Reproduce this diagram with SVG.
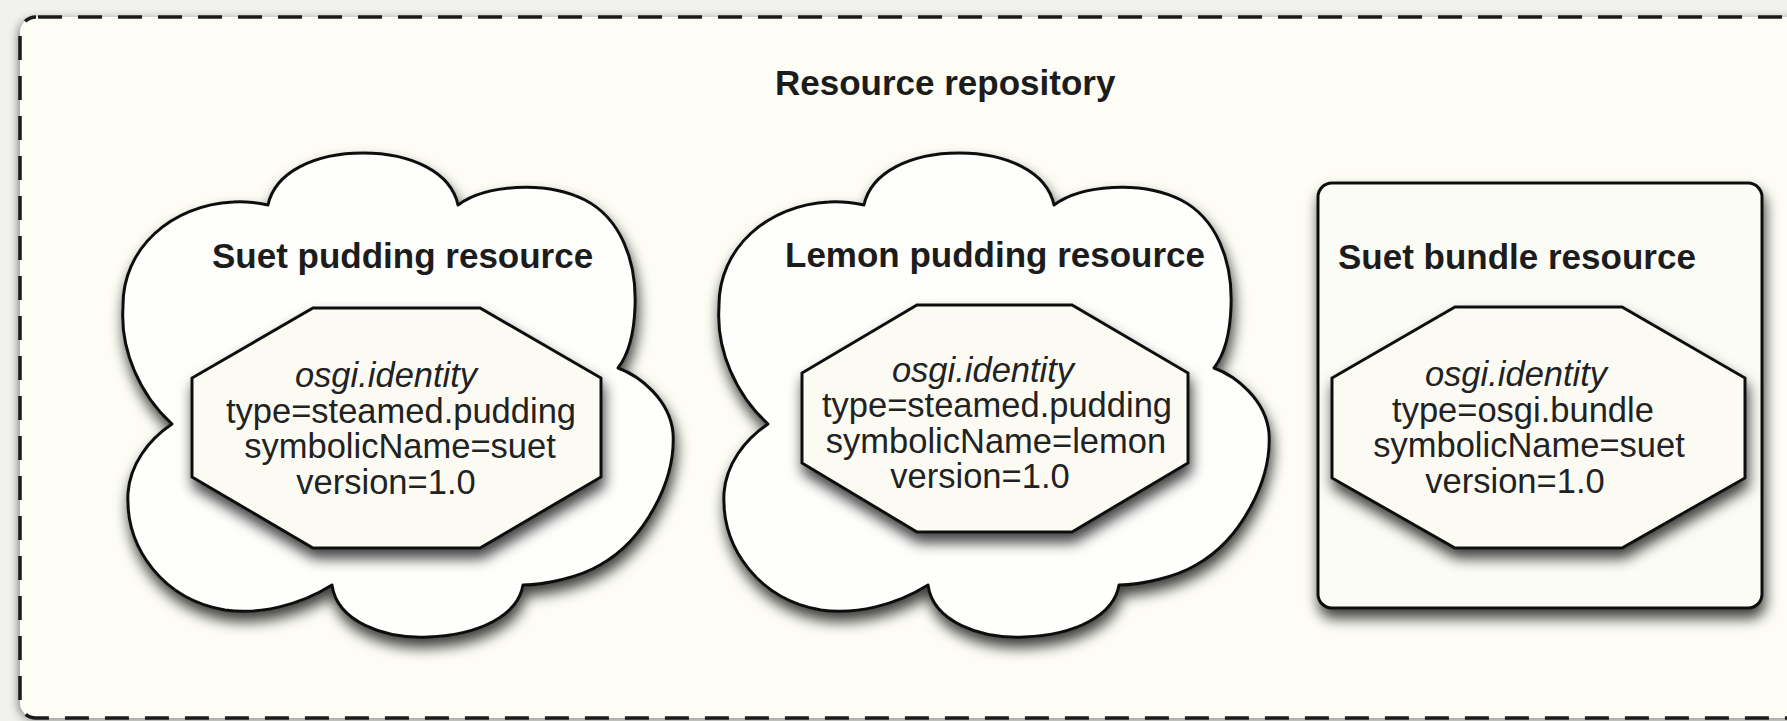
<svg xmlns="http://www.w3.org/2000/svg" width="1787" height="721" viewBox="0 0 1787 721">
<defs>
<filter id="sh" x="-20%" y="-20%" width="140%" height="150%">
<feDropShadow dx="2" dy="9" stdDeviation="7" flood-color="#000" flood-opacity="0.75"/>
</filter>
<filter id="shc" x="-5%" y="-5%" width="110%" height="110%">
<feDropShadow dx="-2" dy="2" stdDeviation="5" flood-color="#000" flood-opacity="0.45"/>
</filter>
</defs>
<style>
.ttl{font-family:"Liberation Sans",Arial,Helvetica,sans-serif;font-weight:bold;font-size:35px;fill:#1c1c1c}
.txt{font-family:"Liberation Sans",Arial,Helvetica,sans-serif;font-size:34.5px;fill:#222;text-anchor:middle}
.it{font-style:italic}
.cloud{fill:#fefefd;stroke:#111;stroke-width:3;stroke-linejoin:round;filter:url(#sh)}
.oct{fill:#fbfbf4;stroke:#111;stroke-width:3;stroke-linejoin:miter;filter:url(#sh)}
.box{fill:#fcfcf6;stroke:#111;stroke-width:3;filter:url(#sh)}
</style>
<rect width="1787" height="721" fill="#f1f1ef"/>
<g id="resource-repository">
<rect x="20" y="17" width="1800" height="701" rx="16" fill="#fdfdf6" filter="url(#shc)"/>
<rect x="20" y="17" width="1800" height="701" rx="16" fill="none" stroke="#1a1a1a" stroke-width="3.5" stroke-dasharray="24 16" stroke-dashoffset="-2"/>
<text class="ttl" x="775" y="95">Resource repository</text>
</g>
<g id="suet-pudding-resource">
<path class="cloud" d="M268,205 C275,172 315,153 363,153 C411,153 451,172 458,205 C485,185 545,180 585,200 C620,218 637,260 635,307 C634,335 628,355 618,368 C640,376 670,400 673,433 C676,480 645,540 600,565 C580,577 545,585 523,585 C518,615 480,635 428,637 C385,639 337,622 332,585 C300,605 260,615 225,610 C165,600 125,550 128,493 C130,465 148,440 172,424 C140,395 120,350 123,307 C122,248 172,205 233,202 C245,201 258,203 268,205 Z"/>
<text class="ttl" x="212" y="268">Suet pudding resource</text>
<polygon class="oct" points="313,308 480,308 601,378 601,477 480,548 313,548 192,477 192,378"/>
<text class="txt it" x="386" y="387">osgi.identity</text>
<text class="txt" x="401" y="422.5">type=steamed.pudding</text>
<text class="txt" x="400" y="458">symbolicName=suet</text>
<text class="txt" x="386" y="493.5">version=1.0</text>
</g>
<g id="lemon-pudding-resource">
<path class="cloud" transform="translate(596,0)" d="M268,205 C275,172 315,153 363,153 C411,153 451,172 458,205 C485,185 545,180 585,200 C620,218 637,260 635,307 C634,335 628,355 618,368 C640,376 670,400 673,433 C676,480 645,540 600,565 C580,577 545,585 523,585 C518,615 480,635 428,637 C385,639 337,622 332,585 C300,605 260,615 225,610 C165,600 125,550 128,493 C130,465 148,440 172,424 C140,395 120,350 123,307 C122,248 172,205 233,202 C245,201 258,203 268,205 Z"/>
<text class="ttl" x="785" y="267">Lemon pudding resource</text>
<polygon class="oct" points="917,305 1072,305 1188,373 1188,463 1072,532 917,532 802,463 802,373"/>
<text class="txt it" x="983" y="381.5">osgi.identity</text>
<text class="txt" x="997" y="417">type=steamed.pudding</text>
<text class="txt" x="996" y="452.5">symbolicName=lemon</text>
<text class="txt" x="980" y="488">version=1.0</text>
</g>
<g id="suet-bundle-resource">
<rect class="box" x="1318" y="183" width="444" height="425" rx="14"/>
<text class="ttl" x="1338" y="269">Suet bundle resource</text>
<polygon class="oct" points="1455,307 1622,307 1745,378 1745,478 1622,548 1455,548 1332,478 1332,378"/>
<text class="txt it" x="1516" y="386">osgi.identity</text>
<text class="txt" x="1523" y="421.5">type=osgi.bundle</text>
<text class="txt" x="1529" y="457">symbolicName=suet</text>
<text class="txt" x="1515" y="492.5">version=1.0</text>
</g>
<g id="connectors"/>
</svg>
